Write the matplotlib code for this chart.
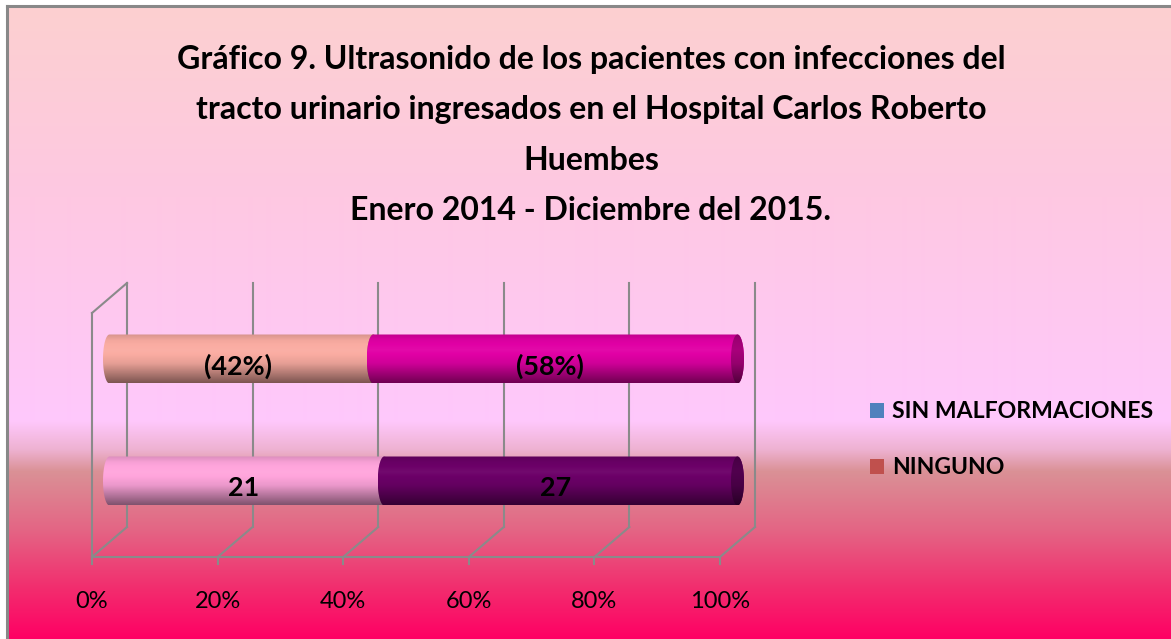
import numpy as np
import matplotlib
matplotlib.use("Agg")
import matplotlib.pyplot as plt
from matplotlib.patches import PathPatch, Rectangle
from matplotlib.path import Path
from matplotlib.colors import to_rgb
from matplotlib import font_manager as fm

# ---------------- data ----------------
title = ("Gráfico 9. Ultrasonido de los pacientes con infecciones del\n"
         "tracto urinario ingresados en el Hospital Carlos Roberto\n"
         "Huembes\n"
         "Enero 2014 - Diciembre del 2015.")
categories = ["Frecuencia", "Porcentaje"]          # bottom bar, top bar
series_names = ["SIN MALFORMACIONES", "NINGUNO"]
sin_malformaciones = [21, 42]
ninguno = [27, 58]
bar_labels_sin = ["21", "(42%)"]
bar_labels_ninguno = ["27", "(58%)"]
tick_values = [0, 20, 40, 60, 80, 100]
tick_labels = ["0%", "20%", "40%", "60%", "80%", "100%"]
legend_colors = ["#4f81bd", "#c0504d"]
segment_colors = [["#ffa5dc", "#6c0068"],   # bottom bar: left, right
                  ["#faaca2", "#e100a5"]]   # top bar: left, right

# ---------------- font choice ----------------
avail = {f.name for f in fm.fontManager.ttflist}
main_font = None
for cand in ["Lato", "Open Sans", "Noto Sans", "DejaVu Sans"]:
    if cand in avail:
        main_font = cand
        break
plt.rcParams["font.family"] = [main_font, "DejaVu Sans"]

W, H = 1171, 639
fig = plt.figure(figsize=(W / 100, H / 100), dpi=100)
fig.patch.set_facecolor("white")
renderer = fig.canvas.get_renderer()


def fit_size(txt, target_px, size0=20, weight="normal"):
    t = fig.text(0, 0, txt, fontsize=size0, fontweight=weight)
    w = t.get_window_extent(renderer).width
    t.remove()
    return size0 * target_px / w


# ---------------- background gradient ----------------
bg = fig.add_axes([8 / W, 0, 1 - 8 / W, 1 - 7 / H], zorder=0)
bg.set_axis_off()
stops = [(0.00, (252, 208, 208)),
         (0.30, (254, 200, 226)),
         (0.655, (255, 200, 252)),
         (0.70, (238, 178, 210)),
         (0.735, (218, 145, 150)),
         (0.83, (228, 100, 132)),
         (0.92, (242, 45, 110)),
         (1.00, (255, 0, 100))]
n = 632
tt = np.linspace(0, 1, n)
grad = np.zeros((n, 1, 3))
for c in range(3):
    grad[:, 0, c] = np.interp(tt, [s[0] for s in stops], [s[1][c] / 255 for s in stops])
bg.imshow(grad, aspect="auto", extent=[0, 1, 0, 1], origin="upper", interpolation="bilinear")
bg.set_xlim(0, 1)
bg.set_ylim(0, 1)

# frame (top and left border)
fig.add_artist(plt.Line2D([6.5 / W, 6.5 / W], [0, 1 - 5.5 / H], color="#888888", lw=2.2,
                          transform=fig.transFigure))
fig.add_artist(plt.Line2D([6.5 / W, 1], [1 - 5.5 / H, 1 - 5.5 / H], color="#888888", lw=2.2,
                          transform=fig.transFigure))

# ---------------- title ----------------
title_lines = title.split("\n")
title_size = fit_size(title_lines[0], 829, weight="bold")
for k, line in enumerate(title_lines):
    fig.text(591 / W, 1 - (60 + 50 * k) / H, line, ha="center", va="center",
             fontsize=title_size, fontweight="bold", color="black", zorder=5)

# ---------------- main axes (front plane of 3D box) ----------------
x_front0, x_front1 = 92, 720
y_floor, y_walltop = 557, 313
ax = fig.add_axes([x_front0 / W, (H - y_floor) / H, (x_front1 - x_front0) / W,
                   (y_floor - y_walltop) / H], zorder=2)
ax.patch.set_alpha(0)
ax.set_xlim(0, 100)
ax.set_ylim(-0.5, 1.5)
for s in ax.spines.values():
    s.set_visible(False)
ax.set_yticks([])
tick_size = fit_size("100%", 60)
ax.set_xticks(tick_values)
ax.set_xticklabels(tick_labels, fontsize=tick_size)
ax.tick_params(axis="x", length=0, pad=44 * 72 / 100)
for lbl in ax.get_xticklabels():
    lbl.set_verticalalignment("center")

px_x = (x_front1 - x_front0) / 100.0      # pixels per % unit
px_y = (y_floor - y_walltop) / 2.0        # pixels per category unit
DX = 35 / px_x
DY = 30 / px_y
gcol = "#8a8a8a"
glw = 1.5
y0, y1 = -0.5, 1.5

for tv in tick_values:
    ax.plot([tv + DX, tv + DX], [y0 + DY, y1 + DY], color=gcol, lw=glw, clip_on=False, zorder=1)
    ax.plot([tv, tv + DX], [y0, y0 + DY], color=gcol, lw=glw, clip_on=False, zorder=1)
    ax.plot([tv, tv], [y0, y0 - 7 / px_y], color=gcol, lw=glw, clip_on=False, zorder=1)
ax.plot([0, 100], [y0, y0], color=gcol, lw=glw, clip_on=False, zorder=1)
ax.plot([0, 0], [y0, y1], color=gcol, lw=glw, clip_on=False, zorder=1)
ax.plot([0, DX], [y1, y1 + DY], color=gcol, lw=glw, clip_on=False, zorder=1)


def shade_array(color, profile_t, profile_f, n=80):
    base = np.array(to_rgb(color))
    t = np.linspace(0, 1, n)
    f = np.interp(t, profile_t, profile_f)
    arr = np.zeros((n, 1, 3))
    for k in range(3):
        v = base[k] * f
        v = np.where(f > 1, base[k] + (1 - base[k]) * (f - 1), v)
        arr[:, 0, k] = np.clip(v, 0, 1)
    return arr


PT = [0.0, 0.12, 0.32, 0.6, 0.85, 1.0]
PF = [0.86, 0.97, 1.04, 0.92, 0.66, 0.50]


def draw_cylinder(ax, xa, xb, yc, h, ea, color, z):
    th = np.linspace(np.pi / 2, 3 * np.pi / 2, 40)
    left = np.column_stack([xa + ea * np.cos(th), yc + h / 2 * np.sin(th)])
    th2 = np.linspace(-np.pi / 2, np.pi / 2, 40)
    right = np.column_stack([xb + ea * np.cos(th2), yc + h / 2 * np.sin(th2)])
    verts = np.vstack([left, right, left[:1]])
    patch = PathPatch(Path(verts), facecolor="none", edgecolor="none", zorder=z)
    ax.add_patch(patch)
    im = ax.imshow(shade_array(color, PT, PF), aspect="auto",
                   extent=[xa - ea, xb + ea, yc - h / 2, yc + h / 2],
                   origin="upper", interpolation="bilinear", zorder=z)
    im.set_clip_path(patch)
    im.set_clip_box(fig.bbox)
    th3 = np.linspace(0, 2 * np.pi, 80)
    cap = np.column_stack([xb + ea * np.cos(th3), yc + h / 2 * np.sin(th3)])
    cpatch = PathPatch(Path(cap), facecolor="none", edgecolor="none", zorder=z + 0.1)
    ax.add_patch(cpatch)
    im2 = ax.imshow(shade_array(color, PT, [f * 0.72 for f in PF]), aspect="auto",
                    extent=[xb - ea, xb + ea, yc - h / 2, yc + h / 2],
                    origin="upper", interpolation="bilinear", zorder=z + 0.1)
    im2.set_clip_path(cpatch)
    im2.set_clip_box(fig.bbox)


bar_h = 49 / px_y
ea = 6.5 / px_x
label_size = fit_size("(42%)", 68, weight="bold")
for i, cat in enumerate(categories):
    total = sin_malformaciones[i] + ninguno[i]
    p1 = 100.0 * sin_malformaciones[i] / total
    p2 = 100.0 * ninguno[i] / total
    yc = i + DY / 2
    xo = DX / 2
    draw_cylinder(ax, xo, xo + p1, yc, bar_h, ea, segment_colors[i][0], 3 + i)
    draw_cylinder(ax, xo + p1, xo + p1 + p2, yc, bar_h, ea, segment_colors[i][1], 3.5 + i)
    ax.text(xo + p1 / 2 - 0.6, yc - 7 / px_y, bar_labels_sin[i], ha="center", va="center",
            fontsize=label_size, fontweight="bold", zorder=10)
    ax.text(xo + p1 + p2 / 2 - 0.9, yc - 7 / px_y, bar_labels_ninguno[i], ha="center",
            va="center", fontsize=label_size, fontweight="bold", zorder=10)

ax.set_xlim(0, 100)
ax.set_ylim(-0.5, 1.5)

# ---------------- legend ----------------
leg_size = fit_size(series_names[0], 260, weight="bold")
fs_px = leg_size * 100 / 72
handles = [Rectangle((0, 0), 1, 1, facecolor=c, edgecolor="none") for c in legend_colors]


def make_legend(spacing):
    return fig.legend(handles, series_names, loc="center left",
                      bbox_to_anchor=(870 / W, 1 - 440 / H), frameon=False,
                      borderpad=0, borderaxespad=0,
                      prop={"size": leg_size, "weight": "bold"},
                      handlelength=14 / fs_px, handleheight=14 / fs_px,
                      handletextpad=8 / fs_px, labelspacing=spacing)


leg = make_legend(1.0)
fig.canvas.draw()
row_h = leg.get_texts()[0].get_window_extent(renderer).height
leg.remove()
leg = make_legend(max(0.1, (56 - row_h) / fs_px))

fig.savefig("out.png", dpi=100)
